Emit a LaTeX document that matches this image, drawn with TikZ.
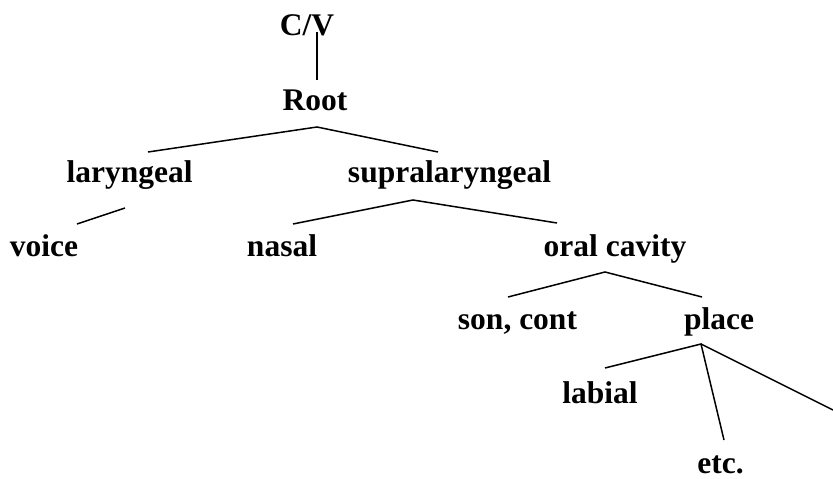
\documentclass[tikz,border=0pt]{standalone}
\usepackage{fontspec}
\setmainfont{Liberation Serif}
\begin{document}
\begin{tikzpicture}[x=1pt,y=-1pt,
  lab/.style={anchor=base,inner sep=0pt,font=\fontsize{31.5}{36}\selectfont\bfseries},
  edge/.style={line width=1.5pt}]
\useasboundingbox (0,0) rectangle (833,479);
\node[lab] (cv) at (307,35) {C/V};
\node[lab] (root) at (315,110) {Root};
\node[lab] (lar) at (129.5,182) {laryngeal};
\node[lab] (sup) at (449.5,182) {supralaryngeal};
\node[lab] (voice) at (44,256) {voice};
\node[lab] (nasal) at (282,256) {nasal};
\node[lab] (oral) at (615,256) {oral cavity};
\node[lab] (son) at (517.5,329) {son, cont};
\node[lab] (place) at (719,329) {place};
\node[lab] (labial) at (600,403) {labial};
\node[lab] (etc) at (720.5,473.5) {etc.};
\coordinate (off) at (833,410);
\draw[edge] ([shift={(10,-3)}]cv.base) -- ([shift={(2,-30)}]root.base);
\draw[edge] ([shift={(18.5,-30)}]lar.base) -- ([shift={(2,17)}]root.base) -- ([shift={(-11.5,-30)}]sup.base);
\draw[edge] ([shift={(-4.5,26)}]lar.base) -- ([shift={(33,-32)}]voice.base);
\draw[edge] ([shift={(11,-32)}]nasal.base) -- ([shift={(-36.5,18)}]sup.base) -- ([shift={(-58,-33)}]oral.base);
\draw[edge] ([shift={(-9.5,-32)}]son.base) -- ([shift={(-10,16)}]oral.base) -- ([shift={(-17,-32)}]place.base);
\draw[edge] ([shift={(5,-35)}]labial.base) -- ([shift={(-18,15)}]place.base) -- ([shift={(3.5,-33.5)}]etc.base);
\draw[edge] ([shift={(-18,15)}]place.base) -- (off);
\end{tikzpicture}
\end{document}
